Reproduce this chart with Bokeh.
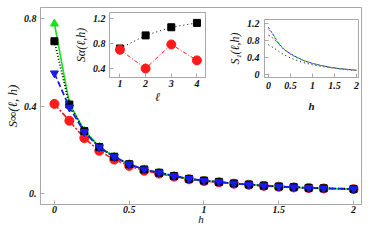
from bokeh.plotting import figure
from bokeh.models import FixedTicker, Range1d
from bokeh.layouts import column
from bokeh.embed import file_html
from bokeh.resources import INLINE

# ---------------- data ----------------
h_main = [0, 0.1, 0.2, 0.3, 0.4, 0.5, 0.6, 0.7, 0.8, 0.9, 1.0,
          1.1, 1.2, 1.3, 1.4, 1.5, 1.6, 1.7, 1.8, 2.0]
s_black = [0.696, 0.407, 0.286, 0.213, 0.169, 0.135, 0.111, 0.096, 0.081, 0.068, 0.060,
           0.054, 0.047, 0.042, 0.037, 0.033, 0.030, 0.027, 0.025, 0.022]
s_green = [0.776, 0.412, 0.288, 0.214, 0.169, 0.135, 0.111, 0.096, 0.081, 0.068, 0.060,
           0.054, 0.047, 0.042, 0.037, 0.033, 0.030, 0.027, 0.025, 0.022]
s_blue = [0.550, 0.394, 0.282, 0.212, 0.168, 0.135, 0.111, 0.096, 0.081, 0.068, 0.060,
          0.054, 0.047, 0.042, 0.037, 0.033, 0.030, 0.027, 0.025, 0.022]
s_red = [0.410, 0.333, 0.254, 0.196, 0.156, 0.127, 0.105, 0.092, 0.078, 0.066, 0.058,
         0.052, 0.046, 0.041, 0.036, 0.032, 0.029, 0.026, 0.024, 0.021]

main_xticks = [0, 0.5, 1, 1.5, 2]
main_xlabels = ["0", "0.5", "1", "1.5", "2"]
main_yticks = [0, 0.4, 0.8]
main_ylabels = ["0.", "0.4", "0.8"]

ell = [1, 2, 3, 4]
sa_black = [0.72, 0.93, 1.06, 1.13]
sa_red = [0.70, 0.40, 0.785, 0.53]
in1_xticks = [1, 2, 3, 4]
in1_xlabels = ["1", "2", "3", "4"]
in1_yticks = [0.4, 0.8, 1.2]
in1_ylabels = ["0.4", "0.8", "1.2"]

h_in2 = [0, 0.1, 0.2, 0.3, 0.4, 0.5, 0.6, 0.7, 0.8, 1.0, 1.2, 1.4, 1.6, 1.8, 2.0]
s1_blue = [1.11, 0.95, 0.77, 0.64, 0.55, 0.49, 0.43, 0.38, 0.33, 0.26, 0.21, 0.17, 0.14, 0.12, 0.10]
s1_green = [1.06, 0.96, 0.80, 0.66, 0.56, 0.49, 0.43, 0.38, 0.33, 0.26, 0.21, 0.17, 0.14, 0.12, 0.10]
s1_red = [0.93, 0.86, 0.76, 0.65, 0.56, 0.48, 0.42, 0.37, 0.33, 0.26, 0.21, 0.17, 0.14, 0.12, 0.10]
s1_black = [0.70, 0.64, 0.57, 0.50, 0.44, 0.39, 0.35, 0.31, 0.28, 0.23, 0.19, 0.16, 0.13, 0.11, 0.095]
in2_xticks = [0, 0.5, 1, 1.5, 2]
in2_xlabels = ["0", "0.5", "1", "1.5", "2"]
in2_yticks = [0, 0.4, 0.8, 1.2]
in2_ylabels = ["0", "0.4", "0.8", "1.2"]

GREEN = "#17e317"
BLUE = "#1a1aee"
RED = "#ff1a1a"
FRAME = "#a8a8a8"
SERIF = "Liberation Serif"


def style(p, xt, xl, yt, yl, xlab_style, ylab_style, xlab_size, ylab_size,
          xstand, ystand, xlstand, ylstand):
    p.grid.visible = False
    p.outline_line_color = FRAME
    p.outline_line_width = 1
    for ax in (p.xaxis[0], p.yaxis[0]):
        ax.axis_line_color = FRAME
        ax.major_tick_line_color = FRAME
        ax.major_tick_in = 4
        ax.major_tick_out = 0
        ax.minor_tick_line_color = None
        ax.minor_tick_in = 0
        ax.minor_tick_out = 0
        ax.major_label_text_font = SERIF
        ax.major_label_text_font_style = "bold italic"
        ax.major_label_text_font_size = "10px"
        ax.major_label_text_color = "#111111"
        ax.axis_label_text_font = SERIF
        ax.axis_label_text_color = "#111111"
    p.xaxis[0].ticker = FixedTicker(ticks=xt)
    p.xaxis[0].major_label_overrides = dict(zip(xt, xl))
    p.yaxis[0].ticker = FixedTicker(ticks=yt)
    p.yaxis[0].major_label_overrides = dict(zip(yt, yl))
    p.xaxis[0].axis_label_text_font_style = xlab_style
    p.yaxis[0].axis_label_text_font_style = ylab_style
    p.xaxis[0].axis_label_text_font_size = xlab_size
    p.yaxis[0].axis_label_text_font_size = ylab_size
    p.xaxis[0].major_label_standoff = xstand
    p.yaxis[0].major_label_standoff = ystand
    p.xaxis[0].axis_label_standoff = xlstand
    p.yaxis[0].axis_label_standoff = ylstand


# ---------------- main plot ----------------
p = figure(width=366, height=227, output_backend="svg", toolbar_location=None,
           x_range=Range1d(-0.093, 2.053), y_range=Range1d(-0.049, 0.850),
           min_border_left=39, min_border_right=5, min_border_top=7, min_border_bottom=22,
           x_axis_label="h", y_axis_label="S∞(ℓ, h)")
p.border_fill_color = "white"
style(p, main_xticks, main_xlabels, main_yticks, main_ylabels,
      "italic", "italic", "11px", "13px", 1, 4, -3, 1)

p.line(h_main, s_red, line_color=RED, line_width=1.6, line_dash="6 2 2 2")
p.scatter(h_main, s_red, marker="circle", size=9, fill_color=RED, line_color=RED)
p.line(h_main, s_green, line_color=GREEN, line_width=1.6)
p.scatter(h_main, s_green, marker="triangle", size=8, fill_color=GREEN, line_color=GREEN)
p.line(h_main, s_black, line_color="black", line_width=1.8, line_dash="1 2")
p.scatter(h_main, s_black, marker="square", size=7, fill_color="black", line_color="black")
p.line(h_main, s_blue, line_color=BLUE, line_width=1.8, line_dash="6 3")
p.scatter(h_main, s_blue, marker="inverted_triangle", size=8, fill_color=BLUE, line_color=BLUE)

# ---------------- inset 1 ----------------
q = figure(width=141, height=107, output_backend="svg", toolbar_location=None,
           x_range=Range1d(0.593, 4.333), y_range=Range1d(0.256, 1.296),
           min_border_left=36, min_border_right=4, min_border_top=12, min_border_bottom=30,
           x_axis_label="ℓ", y_axis_label="Sα(ℓ,h)")
q.border_fill_alpha = 0
q.background_fill_color = "white"
style(q, in1_xticks, in1_xlabels, in1_yticks, in1_ylabels,
      "italic", "italic", "12px", "12px", 2, 4, 0, 2)
q.line(ell, sa_black, line_color="black", line_width=1, line_dash="1 3")
q.scatter(ell, sa_black, marker="square", size=7, fill_color="black", line_color="black")
q.line(ell, sa_red, line_color=RED, line_width=1, line_dash="4 2 1 2")
q.scatter(ell, sa_red, marker="circle", size=9, fill_color=RED, line_color=RED)

# ---------------- inset 2 ----------------
r = figure(width=139, height=104, output_backend="svg", toolbar_location=None,
           x_range=Range1d(-0.088, 2.044), y_range=Range1d(-0.07, 1.294),
           min_border_left=38, min_border_right=4, min_border_top=7, min_border_bottom=39,
           x_axis_label="h", y_axis_label="S₁(ℓ,h)")
r.border_fill_alpha = 0
r.background_fill_color = "white"
style(r, in2_xticks, in2_xlabels, in2_yticks, in2_ylabels,
      "bold italic", "italic", "11px", "12px", 4, 5, 8, 2)
r.line(h_in2, s1_black, line_color="black", line_width=1, line_dash="1 3")
r.line(h_in2, s1_red, line_color=RED, line_width=1, line_dash="2 2")
r.line(h_in2, s1_green, line_color=GREEN, line_width=1, line_dash="2 2")
r.line(h_in2, s1_blue, line_color=BLUE, line_width=1, line_dash="2 2")

# overlap the insets on the main plot with negative margins
q.margin = (-227, 0, 0, 69)
r.margin = (-95, 0, 111, 224)

layout = column(p, q, r, spacing=0)
open("out.html", "w").write(file_html(layout, INLINE))
